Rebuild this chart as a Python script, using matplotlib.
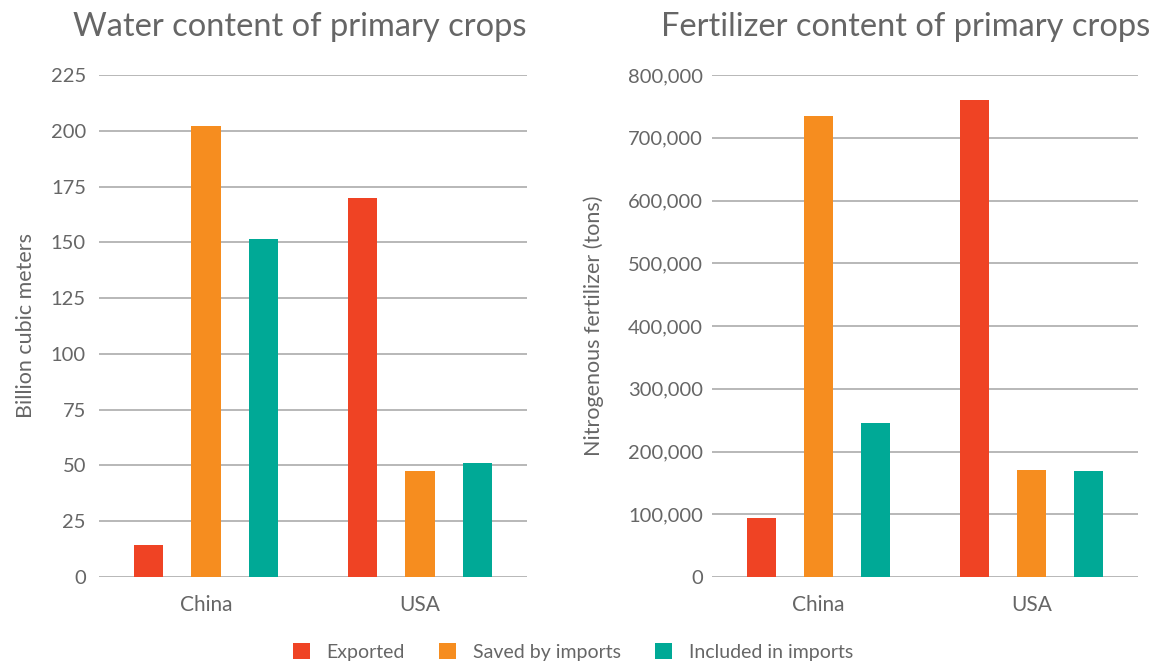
import numpy as np
import matplotlib
matplotlib.use('Agg')
import matplotlib.pyplot as plt
from matplotlib.patches import Patch

# --- Data ---
countries = ['China', 'USA']
series = ['Exported', 'Saved by imports', 'Included in imports']
colors = ['#EF4324', '#F68D1F', '#00A996']

water_exported = [14.5, 170]
water_saved = [202, 47.5]
water_included = [151.5, 51]

fert_exported = [94000, 760000]
fert_saved = [735000, 170500]
fert_included = [245000, 169000]

water_ticks = [0, 25, 50, 75, 100, 125, 150, 175, 200, 225]
fert_ticks = [0, 100000, 200000, 300000, 400000, 500000, 600000, 700000, 800000]

plt.rcParams['font.family'] = ['Lato', 'DejaVu Sans']
text_col = '#666666'
grid_col = '#b8b8b8'

fig = plt.figure(figsize=(11.57, 6.64), dpi=100)
W, H = 1157, 664

offset = 0.2676
width = 0.136


def make_axes(x0, x1):
    return fig.add_axes([x0 / W, (H - 577) / H, (x1 - x0) / W, (577 - 75) / H])


def draw(ax, data, ticks, ylabel, fmt, pad):
    x = np.arange(len(countries))
    for i, vals in enumerate(data):
        ax.bar(x + (i - 1) * offset, vals, width, color=colors[i], zorder=3)
    ax.set_xlim(-0.5, 1.5)
    ax.set_ylim(ticks[0], ticks[-1])
    ax.set_yticks(ticks)
    ax.set_yticklabels([fmt(t) for t in ticks])
    ax.set_xticks(x)
    ax.set_xticklabels(countries)
    ax.yaxis.grid(True, color=grid_col, linewidth=1.4, zorder=0)
    ax.tick_params(axis='y', length=0, pad=pad, labelsize=14.5, labelcolor=text_col)
    ax.tick_params(axis='x', length=0, pad=13, labelsize=15, labelcolor=text_col)
    for s in ax.spines.values():
        s.set_visible(False)
    ax.set_ylabel(ylabel, color=text_col, fontsize=15.5)


ax1 = make_axes(99, 527)
draw(ax1, [water_exported, water_saved, water_included], water_ticks,
     'Billion cubic meters', lambda t: f'{t}', 9.4)
ax1.yaxis.set_label_coords(-0.147, 0.5)

ax2 = make_axes(712, 1138)
draw(ax2, [fert_exported, fert_saved, fert_included], fert_ticks,
     'Nitrogenous fertilizer (tons)', lambda t: f'{t:,}', 6.5)
ax2.yaxis.set_label_coords(-0.254, 0.5)

fig.text(300 / W, (H - 27) / H, 'Water content of primary crops',
         ha='center', va='center', color='#666666', fontsize=23.5)
fig.text(906 / W, (H - 27) / H, 'Fertilizer content of primary crops',
         ha='center', va='center', color='#666666', fontsize=23.5)

handles = [Patch(facecolor=c, edgecolor='none') for c in colors]
fig.legend(handles, series, loc='center', bbox_to_anchor=(573 / W, (H - 652) / H),
           ncol=3, frameon=False, fontsize=14, labelcolor=text_col,
           handlelength=0.87, handleheight=0.87, handletextpad=0.88, columnspacing=1.75)

fig.savefig('out.png', dpi=100)
